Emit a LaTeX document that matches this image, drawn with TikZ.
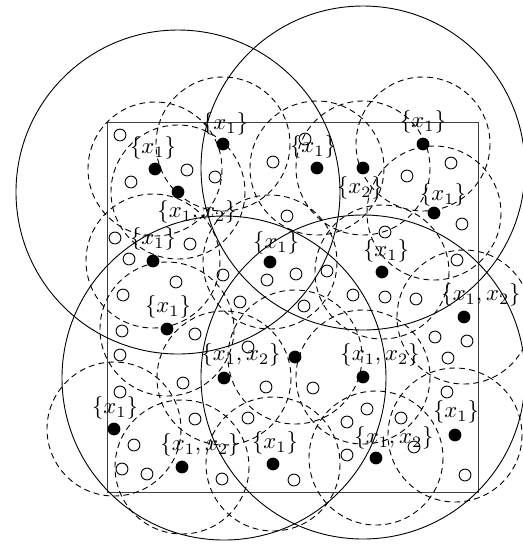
\documentclass[tikz,border=0pt]{standalone}
\usepackage{amsmath, amssymb}

\begin{document}
\begin{tikzpicture}[x=0.44pt, y=-0.44pt,
    sensor/.style={circle, fill=black, inner sep=0pt, minimum size=5.6pt},
    hollow/.style={circle, draw, inner sep=0pt, minimum size=5.2pt},
    sensring/.style={dash pattern=on 2.6pt off 1.8pt, line width=0.4pt},
    bigring/.style={line width=0.4pt},
    setlabel/.style={inner sep=0pt}]
    \useasboundingbox (0,0) rectangle (523,545);

    % Draw region
    \draw[bigring, black!75] (107,122) rectangle (478,492);

    % Draw sensors
    \node[sensor] (s1) at (155,169) {};
    \node[sensor] (s2) at (223,144) {};
    \node[sensor] (s3) at (178,192) {};
    \node[sensor] (s4) at (317,168) {};
    \node[sensor] (s5) at (363,168) {};
    \node[sensor] (s6) at (423,144) {};
    \node[sensor] (s7) at (434,213) {};
    \node[sensor] (s8) at (153,261) {};
    \node[sensor] (s9) at (270,262) {};
    \node[sensor] (s10) at (382,272) {};
    \node[sensor] (s11) at (464,317) {};
    \node[sensor] (s12) at (167,329) {};
    \node[sensor] (s13) at (295,357) {};
    \node[sensor] (s14) at (224,378) {};
    \node[sensor] (s15) at (363,377) {};
    \node[sensor] (s16) at (114,429) {};
    \node[sensor] (s17) at (182,467) {};
    \node[sensor] (s18) at (273,464) {};
    \node[sensor] (s19) at (376,458) {};
    \node[sensor] (s20) at (455,435) {};

    % Draw other points
    \foreach \x/\y [count=\i] in {120/135, 131/182, 187/170, 215/177, 273/162, 305/139,
        407/176, 451/163, 115/238, 190/244, 129/259, 176/282, 223/275, 123/295,
        240/302, 122/331, 195/334, 120/355, 248/347, 287/216, 385/232, 462/224,
        267/280, 296/274, 327/271, 353/295, 385/297, 416/299, 457/260, 304/306,
        435/337, 467/341, 448/358, 120/392, 183/383, 195/419, 134/445, 122/469,
        147/474, 222/479, 248/418, 266/387, 313/388, 447/392, 367/409, 347/422,
        401/418, 347/455, 414/447, 294/480, 465/475}
        \node[hollow] (p\i) at (\x,\y) {};

    % Draw ranges
    \foreach \i in {1,...,20}
        \draw[sensring] (s\i) circle[radius=67];
    \draw[bigring] (s3) circle[radius=162];
    \draw[bigring] (s5) circle[radius=162];
    \draw[bigring] (s14) circle[radius=162];
    \draw[bigring] (s15) circle[radius=162];

    % Labels
    \node[setlabel] (l1) at (153,148) {$\{x_1\}$};
    \node[setlabel] (l2) at (225,124) {$\{x_1\}$};
    \node[setlabel] (l3) at (197,212) {$\{x_1, x_2\}$};
    \node[setlabel] (l4) at (313,147) {$\{x_1\}$};
    \node[setlabel] (l5) at (360,188) {$\{x_2\}$};
    \node[setlabel] (l6) at (423,122) {$\{x_1\}$};
    \node[setlabel] (l7) at (443,195) {$\{x_1\}$};
    \node[setlabel] (l8) at (153,239) {$\{x_1\}$};
    \node[setlabel] (l9) at (276,243) {$\{x_1\}$};
    \node[setlabel] (l10) at (386,251) {$\{x_1\}$};
    \node[setlabel] (l11) at (481,295) {$\{x_1, x_2\}$};
    \node[setlabel] (l12) at (168,307) {$\{x_1\}$};
    \node[setlabel] (l14) at (241,355) {$\{x_1, x_2\}$};
    \node[setlabel] (l15) at (380,355) {$\{x_1, x_2\}$};
    \node[setlabel] (l16) at (115,408) {$\{x_1\}$};
    \node[setlabel] (l17) at (200,445) {$\{x_1, x_2\}$};
    \node[setlabel] (l18) at (275,443) {$\{x_1\}$};
    \node[setlabel] (l19) at (394,438) {$\{x_1, x_2\}$};
    \node[setlabel] (l20) at (456,412) {$\{x_1\}$};
\end{tikzpicture}
\end{document}
